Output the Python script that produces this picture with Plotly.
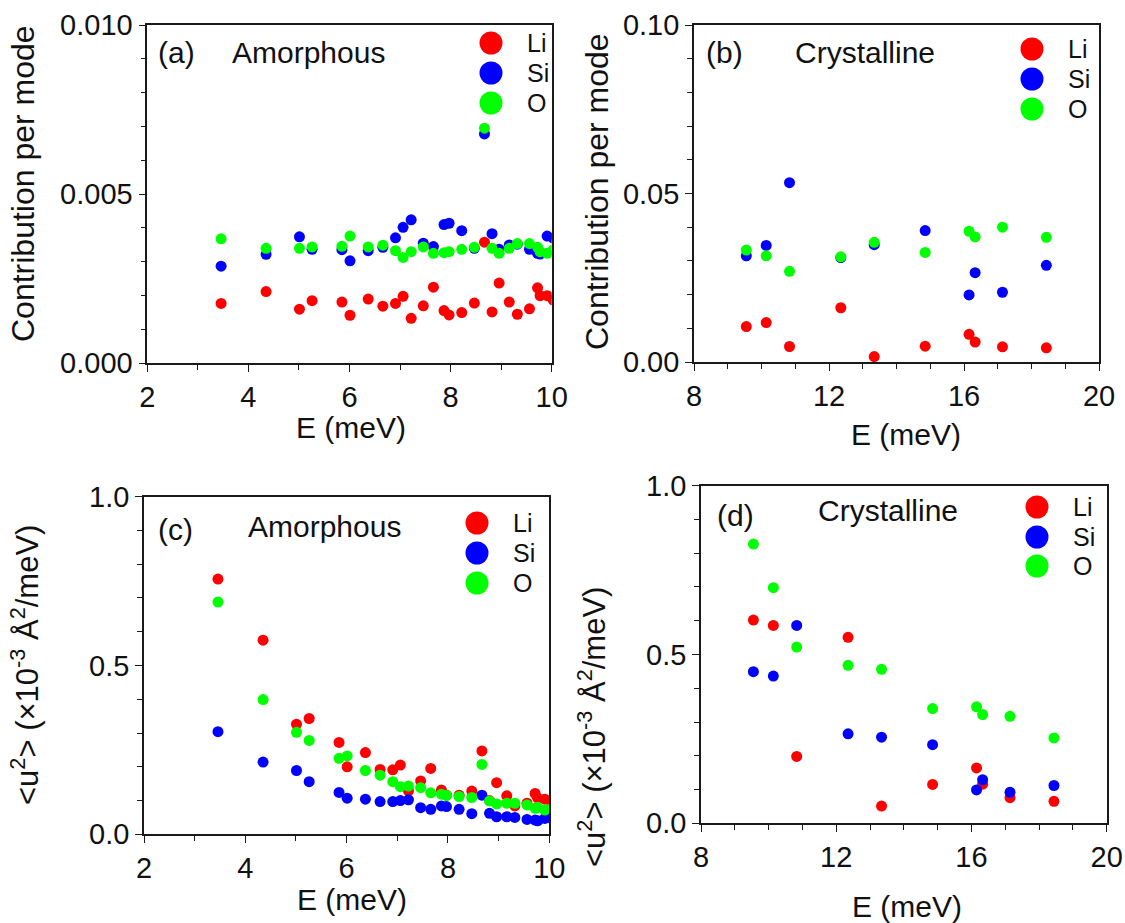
import plotly.graph_objects as go

# ---- mode energies (meV) ----
E_amorphous = [3.46, 4.35, 5.01, 5.26, 5.85, 6.01, 6.37, 6.66, 6.91, 7.06, 7.22, 7.46, 7.66, 7.87,
               7.97, 8.22, 8.47, 8.67, 8.82, 8.96, 9.16, 9.32, 9.56, 9.72, 9.77, 9.91, 10.03]
E_crystalline = [9.55, 10.14, 10.83, 12.35, 13.34, 14.85, 16.15, 16.33, 17.14, 18.44]

# ---- (a) contribution per mode, amorphous ----
contrib_am_Li = [0.00177, 0.00212, 0.00160, 0.00185, 0.00181, 0.00142, 0.00190, 0.00169, 0.00177,
                 0.00198, 0.00133, 0.00170, 0.00225, 0.00156, 0.00143, 0.00150, 0.00178, 0.00358,
                 0.00152, 0.00237, 0.00181, 0.00145, 0.00161, 0.00223, 0.00200, 0.00200, 0.00187]
contrib_am_Si = [0.00287, 0.00322, 0.00374, 0.00337, 0.00336, 0.00303, 0.00333, 0.00343, 0.00371,
                 0.00402, 0.00424, 0.00355, 0.00345, 0.00410, 0.00414, 0.00392, 0.00340, 0.00678,
                 0.00383, 0.00337, 0.00350, 0.00352, 0.00337, 0.00325, 0.00323, 0.00376, 0.00370]
contrib_am_O = [0.00368, 0.00340, 0.00340, 0.00344, 0.00346, 0.00376, 0.00344, 0.00349, 0.00333,
                0.00313, 0.00330, 0.00344, 0.00325, 0.00327, 0.00330, 0.00337, 0.00343, 0.00695,
                0.00340, 0.00325, 0.00340, 0.00354, 0.00354, 0.00343, 0.00330, 0.00325, 0.00335]

# ---- (b) contribution per mode, crystalline ----
contrib_cr_Li = [0.0105, 0.0117, 0.0046, 0.0161, 0.0016, 0.0047, 0.0082, 0.0059, 0.0045, 0.0042]
contrib_cr_Si = [0.0315, 0.0346, 0.0532, 0.0310, 0.0348, 0.0390, 0.0199, 0.0265, 0.0207, 0.0287]
contrib_cr_O = [0.0332, 0.0315, 0.0269, 0.0312, 0.0355, 0.0325, 0.0388, 0.0371, 0.0400, 0.0370]

# ---- (c) <u^2> per meV, amorphous ----
u2_am_Li = [0.756, 0.575, 0.326, 0.343, 0.272, 0.200, 0.242, 0.192, 0.191, 0.205, 0.129, 0.158,
            0.195, 0.131, 0.116, 0.116, 0.128, 0.247, 0.100, 0.153, 0.114, 0.084, 0.092, 0.121,
            0.107, 0.104, 0.098]
u2_am_Si = [0.304, 0.214, 0.189, 0.156, 0.124, 0.107, 0.104, 0.097, 0.097, 0.100, 0.102, 0.079,
            0.074, 0.084, 0.082, 0.074, 0.061, 0.116, 0.062, 0.052, 0.052, 0.050, 0.044, 0.042,
            0.040, 0.047, 0.048]
u2_am_O = [0.688, 0.399, 0.302, 0.278, 0.225, 0.232, 0.189, 0.175, 0.156, 0.141, 0.143, 0.138,
           0.123, 0.119, 0.115, 0.112, 0.109, 0.207, 0.099, 0.090, 0.092, 0.092, 0.087, 0.077,
           0.080, 0.072, 0.075]

# ---- (d) <u^2> per meV, crystalline ----
u2_cr_Li = [0.602, 0.586, 0.198, 0.551, 0.051, 0.115, 0.164, 0.116, 0.076, 0.065]
u2_cr_Si = [0.449, 0.436, 0.586, 0.265, 0.255, 0.233, 0.099, 0.129, 0.092, 0.112]
u2_cr_O = [0.827, 0.698, 0.522, 0.468, 0.456, 0.340, 0.345, 0.322, 0.317, 0.253]

species = ["Li", "Si", "O"]
colors = {"Li": "#ff0000", "Si": "#0000ff", "O": "#00ff00"}

W, H = 1125, 923
FONT = "Liberation Sans, Arial, Helvetica, sans-serif"


def px(x):
    return x / W


def py(y):
    return 1 - y / H


fig = go.Figure()

panels = [
    # axis suffix, x, ys, domain box in pixels (left, right, top, bottom)
    ("", E_amorphous, [contrib_am_Li, contrib_am_Si, contrib_am_O], (147.3, 551.7, 25, 363.3)),
    ("2", E_crystalline, [contrib_cr_Li, contrib_cr_Si, contrib_cr_O], (694, 1099, 25, 362)),
    ("3", E_amorphous, [u2_am_Li, u2_am_Si, u2_am_O], (144, 549.3, 496.7, 834.3)),
    ("4", E_crystalline, [u2_cr_Li, u2_cr_Si, u2_cr_O], (701, 1106.7, 485.7, 823.3)),
]

for suffix, xs, ys_list, _ in panels:
    for sp, ys in zip(species, ys_list):
        fig.add_trace(go.Scatter(
            x=xs, y=ys, mode="markers", name=sp, showlegend=False,
            marker=dict(color=colors[sp], size=11, line=dict(width=0)),
            xaxis="x" + suffix, yaxis="y" + suffix, cliponaxis=True,
        ))

axis_common = dict(
    showline=True, linecolor="#1a1a1a", linewidth=1.6, mirror=True,
    ticks="outside", ticklen=7, tickwidth=1.4, tickcolor="#1a1a1a",
    showgrid=False, zeroline=False, automargin=False,
    tickfont=dict(family=FONT, size=29, color="#111111"),
)

x_specs = [
    dict(range=[2, 10], tick0=2, dtick=2, minor=dict(dtick=1)),
    dict(range=[8, 20], tick0=8, dtick=4, minor=dict(dtick=1)),
    dict(range=[2, 10], tick0=2, dtick=2, minor=dict(dtick=1)),
    dict(range=[8, 20], tick0=8, dtick=4, minor=dict(dtick=1)),
]
y_specs = [
    dict(range=[0, 0.010], tick0=0, dtick=0.005, tickformat=".3f", minor=dict(dtick=0.001)),
    dict(range=[0, 0.10], tick0=0, dtick=0.05, tickformat=".2f", minor=dict(dtick=0.01)),
    dict(range=[0, 1.0], tick0=0, dtick=0.5, tickformat=".1f", minor=dict(dtick=0.1)),
    dict(range=[0, 1.0], tick0=0, dtick=0.5, tickformat=".1f", minor=dict(dtick=0.1)),
]

layout_axes = {}
for (suffix, _, _, box), xs_spec, ys_spec in zip(panels, x_specs, y_specs):
    l, r, t, b = box
    minor_x = dict(ticks="outside", ticklen=5, tickwidth=1.2, tickcolor="#1a1a1a", **xs_spec["minor"])
    minor_y = dict(ticks="outside", ticklen=5, tickwidth=1.2, tickcolor="#1a1a1a", **ys_spec["minor"])
    xa = dict(axis_common, **{k: v for k, v in xs_spec.items() if k != "minor"})
    ya = dict(axis_common, **{k: v for k, v in ys_spec.items() if k != "minor"})
    xa.update(domain=[px(l), px(r)], anchor="y" + suffix, minor=minor_x, tickmode="linear")
    ya.update(domain=[py(b), py(t)], anchor="x" + suffix, minor=minor_y, tickmode="linear")
    layout_axes["xaxis" + suffix] = xa
    layout_axes["yaxis" + suffix] = ya

annotations = []
shapes = []


def text_at(x, y, s, size, xanchor="left", angle=0):
    annotations.append(dict(
        x=px(x), y=py(y), xref="paper", yref="paper", text=s, showarrow=False,
        xanchor=xanchor, yanchor="middle", textangle=angle,
        font=dict(family=FONT, size=size, color="#111111"),
    ))


# panel labels
text_at(156, 52, "(a)", 30)
text_at(230, 52, "Amorphous", 30)
text_at(704, 52, "(b)", 30)
text_at(793, 52, "Crystalline", 30)
text_at(156, 529, "(c)", 30)
text_at(246, 526, "Amorphous", 30)
text_at(715, 515, "(d)", 30)
text_at(816, 511, "Crystalline", 30)

# axis titles
u2_title = "&lt;u<sup>2</sup>&gt; (\u00d710<sup>-3</sup> \u00c5<sup>2</sup>/meV)"
text_at(23, 184, "Contribution per mode", 32, xanchor="center", angle=-90)
text_at(597, 192, "Contribution per mode", 32, xanchor="center", angle=-90)
text_at(25, 665, u2_title, 31, xanchor="center", angle=-90)
text_at(592, 727, u2_title, 31, xanchor="center", angle=-90)
text_at(351, 427, "E (meV)", 30, xanchor="center")
text_at(906, 434, "E (meV)", 30, xanchor="center")
text_at(352, 899, "E (meV)", 30, xanchor="center")
text_at(907, 906, "E (meV)", 30, xanchor="center")

# per-panel legends: large filled circles with element names
legend_pos = [
    (491, [43, 73, 103], 525),
    (1032, [49, 79, 109], 1066),
    (477, [523, 553, 583], 511),
    (1037, [507, 537, 566], 1071),
]
R = 11.5
for cx, cys, tx in legend_pos:
    for sp, cy in zip(species, cys):
        shapes.append(dict(
            type="circle", xref="paper", yref="paper",
            x0=px(cx - R), x1=px(cx + R), y0=py(cy + R), y1=py(cy - R),
            fillcolor=colors[sp], line=dict(width=0),
        ))
        text_at(tx, cy, sp, 25)

fig.update_layout(
    width=W, height=H,
    margin=dict(l=0, r=0, t=0, b=0),
    paper_bgcolor="white", plot_bgcolor="white",
    font=dict(family=FONT, color="#111111"),
    annotations=annotations, shapes=shapes,
    showlegend=False,
    **layout_axes,
)

fig.write_html("out.html")
